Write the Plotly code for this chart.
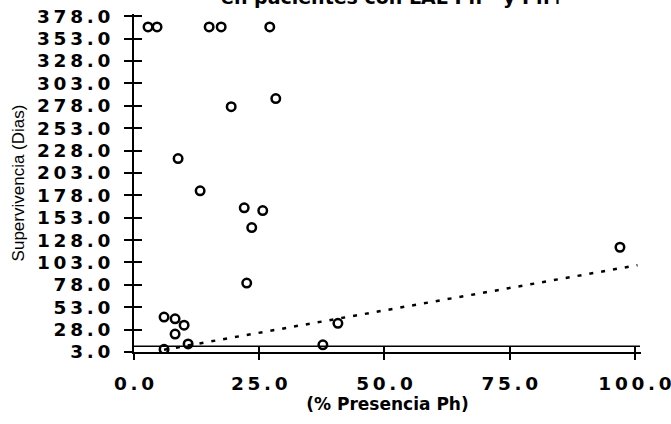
import plotly.graph_objects as go

# Data
presencia_ph = [2.8, 4.6, 15.0, 17.4, 27.1,
                19.4, 28.3,
                8.8, 13.2, 22.0, 25.7, 23.5,
                22.5,
                6.0, 8.2, 10.0, 8.2, 10.8, 6.0,
                40.7, 37.7,
                97.0]
supervivencia = [366, 366, 366, 366, 366,
                 277, 286,
                 219, 183, 164, 161, 142,
                 80,
                 42, 40, 33, 23, 12, 6,
                 35, 11,
                 120]

fit_x = [6.0, 100.5]
fit_y = [5.5, 100.0]

ref_x = [0.0, 101.0]
ref_y = [9.5, 9.5]

y_ticks = [3 + 25 * i for i in range(16)]
x_ticks = [0, 25, 50, 75, 100]

title_text = "en pacientes con LAL Ph - y Ph+"
x_title = "(% Presencia Ph)"
y_title = "Supervivencia (Dias)"

bold_font = "DejaVu Sans"
GAP = "\u2009"


def spaced(v):
    return GAP.join(f"{v:.1f}")


y_ticktext = [spaced(v) for v in y_ticks]
x_ticktext = [spaced(v) for v in x_ticks]

fig = go.Figure()

fig.add_trace(go.Scatter(x=ref_x, y=ref_y, mode="lines",
                         line=dict(color="black", width=1.5),
                         hoverinfo="skip", showlegend=False))
fig.add_trace(go.Scatter(x=fit_x, y=fit_y, mode="lines",
                         line=dict(color="black", width=2.5, dash="4px,8px"),
                         hoverinfo="skip", showlegend=False))
fig.add_trace(go.Scatter(x=presencia_ph, y=supervivencia, mode="markers",
                         marker=dict(symbol="circle-open", size=8.5,
                                     color="black", line=dict(width=2.5, color="black")),
                         showlegend=False))
# invisible trace for the overlay axes (inside tick halves)
fig.add_trace(go.Scatter(x=presencia_ph, y=supervivencia, mode="markers",
                         xaxis="x2", yaxis="y2", marker=dict(opacity=0),
                         hoverinfo="skip", showlegend=False))

xr = [0, 101.2]
yr = [3, 380.5]

fig.update_layout(
    width=671, height=424,
    margin=dict(l=134, r=30, t=14, b=72, autoexpand=False),
    paper_bgcolor="white", plot_bgcolor="white",
    xaxis=dict(range=xr, tickvals=x_ticks, ticktext=x_ticktext,
               showgrid=False, zeroline=False, automargin=False,
               ticklabeloverflow="allow",
               showline=True, linecolor="black", linewidth=2,
               ticks="outside", ticklen=6, tickwidth=1.5, tickcolor="black",
               ticklabelstandoff=8,
               tickfont=dict(family=bold_font, size=18.5, color="black", weight="bold"),
               title=dict(text=x_title, standoff=2,
                          font=dict(family=bold_font, size=17, color="black", weight="bold"))),
    yaxis=dict(range=yr, tickvals=y_ticks, ticktext=y_ticktext,
               showgrid=False, zeroline=False, automargin=False,
               ticklabeloverflow="allow",
               showline=True, linecolor="black", linewidth=2,
               ticks="outside", ticklen=8, tickwidth=1.5, tickcolor="black",
               ticklabelstandoff=10,
               tickfont=dict(family=bold_font, size=18.5, color="black", weight="bold"),
               title=dict(text=y_title, standoff=8,
                          font=dict(family="Liberation Sans Narrow, Liberation Sans, Arial", size=17, color="black"))),
    xaxis2=dict(range=xr, overlaying="x", anchor="y2", tickvals=x_ticks,
                showticklabels=False, showgrid=False, zeroline=False, showline=False,
                ticks="inside", ticklen=6, tickwidth=1.5, tickcolor="black", side="bottom"),
    yaxis2=dict(range=yr, overlaying="y", anchor="x2", tickvals=y_ticks,
                showticklabels=False, showgrid=False, zeroline=False, showline=False,
                ticks="inside", ticklen=8, tickwidth=1.5, tickcolor="black", side="left"),
    annotations=[dict(text=title_text, xref="paper", yref="paper",
                      x=0.51, y=1.050, xanchor="center", yanchor="middle",
                      showarrow=False,
                      font=dict(family=bold_font, size=19, color="black", weight="bold"))],
)

fig.write_html("out.html")
